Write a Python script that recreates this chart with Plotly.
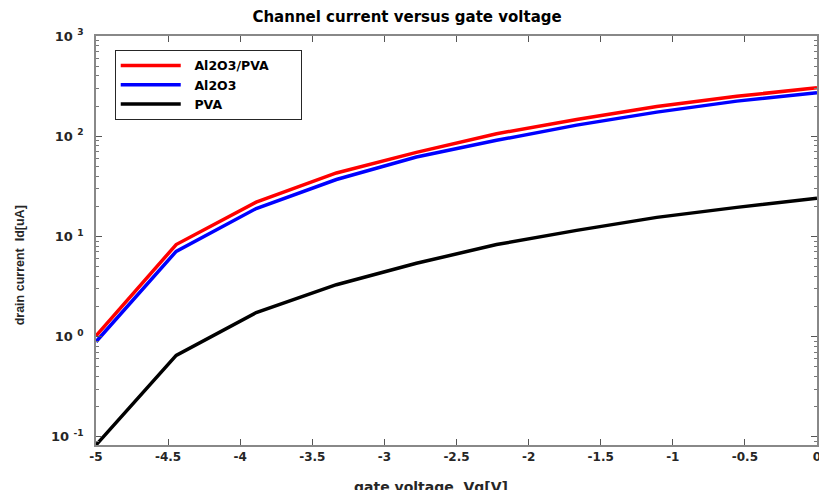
import plotly.graph_objects as go
import numpy as np

vg = [-5.0, -4.444, -3.889, -3.333, -2.778, -2.222, -1.667, -1.111, -0.556, 0.0]
id_al2o3_pva = [1.02, 8.3, 22, 43, 69, 106, 147, 198, 250, 305]
id_al2o3 = [0.89, 7.1, 19, 37, 62, 91, 129, 174, 224, 272]
id_pva = [0.083, 0.65, 1.74, 3.3, 5.4, 8.3, 11.5, 15.5, 19.5, 24]

names = ["Al2O3/PVA", "Al2O3", "PVA"]
colors = ["#ff0000", "#0000ff", "#000000"]
series = [id_al2o3_pva, id_al2o3, id_pva]

ytick_vals = [0.1, 1, 10, 100, 1000]
ytick_text = ["10 <sup>-1</sup>", "10 <sup>0</sup>", "10 <sup>1</sup>", "10 <sup>2</sup>", "10 <sup>3</sup>"]
yminor_vals = [m * d for d in [0.01, 0.1, 1, 10, 100] for m in range(2, 10)]
xtick_vals = [-5, -4.5, -4, -3.5, -3, -2.5, -2, -1.5, -1, -0.5, 0]
xtick_text = ["-5", "-4.5", "-4", "-3.5", "-3", "-2.5", "-2", "-1.5", "-1", "-0.5", "0"]

yrange = [np.log10(0.083), 3]
NB = "\u00a0"

fig = go.Figure()
for i, (n, c, s) in enumerate(zip(names, colors, series)):
    label = NB * 2 + n + (NB * 6 if i == 0 else "")
    fig.add_trace(go.Scatter(x=vg, y=s, mode="lines", name=label,
                             line=dict(color=c, width=3.5)))
# invisible trace to activate the minor-tick axis
fig.add_trace(go.Scatter(x=[vg[0]], y=[id_pva[0]], yaxis="y2", mode="lines",
                         showlegend=False, hoverinfo="skip", line=dict(width=0)))

wide = "DejaVu Sans, Verdana, sans-serif"
narrow = "Liberation Sans, Arial, sans-serif"
fig.update_layout(
    width=819, height=490,
    margin=dict(l=96, r=2, t=36, b=45),
    paper_bgcolor="white", plot_bgcolor="white",
    font=dict(family=wide, color="#262626", size=12),
    title=dict(text="<b>Channel current versus gate voltage</b>", x=0.497, xanchor="center",
               y=0.965, yanchor="middle", font=dict(family=wide, size=15, color="#000")),
    showlegend=True,
    legend=dict(x=0.026, y=0.966, xanchor="left", yanchor="top",
                bordercolor="#262626", borderwidth=1, bgcolor="white",
                font=dict(family=wide, size=12.5, color="#000", weight="bold"),
                tracegroupgap=0, itemwidth=60),
    yaxis2=dict(type="log", range=yrange, overlaying="y", side="left",
                tickvals=yminor_vals, ticktext=[""] * len(yminor_vals),
                ticks="inside", ticklen=3, tickcolor="#777", mirror="ticks",
                showline=False, showgrid=False, zeroline=False, showticklabels=False,
                automargin=False),
    annotations=[
        dict(text="<b>drain current  Id[uA]</b>", xref="paper", yref="paper",
             x=-0.105, y=0.44, xanchor="center", yanchor="middle", textangle=-90,
             showarrow=False, font=dict(family=narrow, size=12.5, color="#262626")),
        dict(text="<b>gate voltage  Vg[V]</b>", xref="paper", yref="paper",
             x=0.465, y=-0.078, xanchor="center", yanchor="top",
             showarrow=False, font=dict(family=wide, size=14, color="#262626")),
    ],
)
fig.update_xaxes(
    range=[-5, 0], tickvals=xtick_vals, ticktext=xtick_text,
    ticks="inside", ticklen=6, tickcolor="#555", showline=True, linecolor="#888",
    linewidth=1.5, mirror="ticks", showgrid=False, zeroline=False, automargin=False,
    ticklabeloverflow="allow",
    tickfont=dict(family=wide, size=12, color="#262626", weight="bold"),
)
fig.layout.yaxis.update(
    type="log", range=yrange,
    tickvals=ytick_vals, ticktext=ytick_text,
    ticks="inside", ticklen=6, tickcolor="#555", showline=True, linecolor="#888",
    linewidth=1.5, mirror="ticks", showgrid=False, zeroline=False, automargin=False,
    ticklabelstandoff=8,
    tickfont=dict(family=wide, size=13, color="#262626", weight="bold"),
)
fig.write_html("out.html", config={"displayModeBar": False},
               post_script="document.body.style.margin='0';")
